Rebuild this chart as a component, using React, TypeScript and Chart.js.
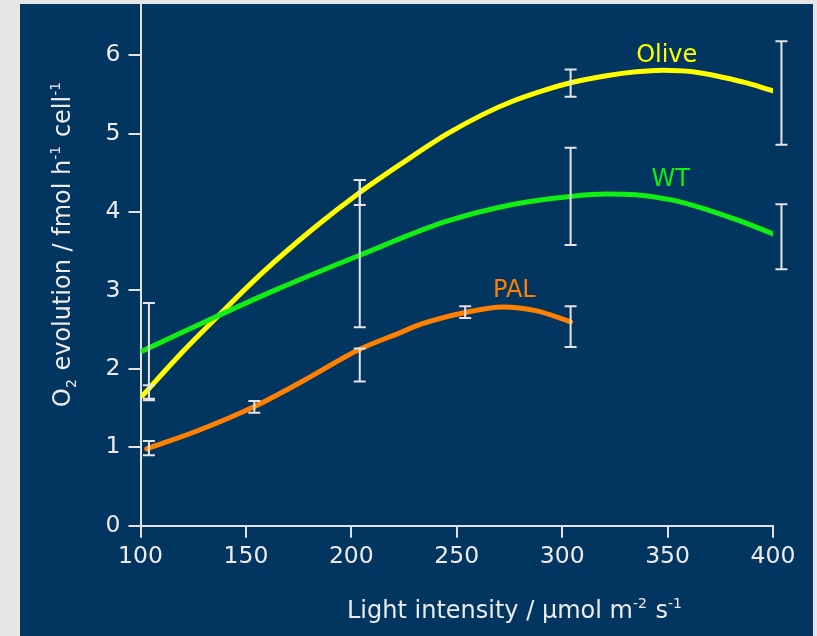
import React, { useEffect, useRef } from "react";
import { Chart, registerables } from "chart.js";

Chart.register(...registerables);

// Fitted curves
const oliveX = [101, 119, 137, 158, 182, 204, 225, 245, 262, 277, 291, 304, 321, 335, 348, 362, 376, 390, 404];
const oliveY = [1.66, 2.19, 2.68, 3.23, 3.79, 4.25, 4.64, 4.99, 5.24, 5.42, 5.55, 5.65, 5.74, 5.79, 5.81, 5.79, 5.72, 5.63, 5.51];
const wtX = [101, 137, 166, 204, 245, 277, 304, 321, 335, 353, 370, 384, 404];
const wtY = [2.23, 2.68, 3.03, 3.45, 3.88, 4.1, 4.2, 4.23, 4.22, 4.15, 4.02, 3.89, 3.68];
const palX = [103, 128, 154, 176, 204, 223, 233, 254, 272, 288, 304];
const palY = [0.98, 1.22, 1.52, 1.83, 2.25, 2.46, 2.57, 2.72, 2.79, 2.74, 2.6];

// Error bars
const oliveErrX = [104, 204, 304, 404];
const oliveErrLow = [1.6, 4.09, 5.47, 4.86];
const oliveErrHigh = [1.79, 4.41, 5.82, 6.18];
const wtErrX = [104, 204, 304, 404];
const wtErrLow = [1.62, 2.53, 3.58, 3.27];
const wtErrHigh = [2.84, 4.41, 4.82, 4.1];
const palErrX = [104, 154, 204, 254, 304];
const palErrLow = [0.9, 1.44, 1.84, 2.65, 2.28];
const palErrHigh = [1.08, 1.59, 2.26, 2.8, 2.8];

// Series labels
const seriesNames = ["Olive", "WT", "PAL"];
const seriesColors = ["#ffff00", "#11ee11", "#ff8000"];
const labelX = [349.6, 351.5, 277.3];
const labelY = [6.03, 4.44, 3.03];

// Axes
const xMin = 100;
const xMax = 400;
const xStep = 50;
const yMin = 0;
const yMax = 6.64;
const yStep = 1;

const FONT = '"DejaVu Sans", sans-serif';
const TEXT = "#ececec";
const AXIS = "#e2e2e2";

type Seg = { t: string; sup?: boolean; sub?: boolean };
const xTitle: Seg[] = [
  { t: "Light intensity / \u00b5mol m" },
  { t: "-2", sup: true },
  { t: " s" },
  { t: "-1", sup: true },
];
const yTitle: Seg[] = [
  { t: "O" },
  { t: "2", sub: true },
  { t: " evolution / fmol h" },
  { t: "-1", sup: true },
  { t: " cell" },
  { t: "-1", sup: true },
];

function drawRich(ctx: CanvasRenderingContext2D, segs: Seg[], x: number, y: number) {
  let cx = x;
  ctx.textAlign = "left";
  ctx.textBaseline = "alphabetic";
  for (const s of segs) {
    const small = s.sup || s.sub;
    ctx.font = `${small ? 14 : 24}px ${FONT}`;
    const dy = s.sup ? -10 : s.sub ? 6 : 0;
    ctx.fillText(s.t, cx, y + dy);
    cx += ctx.measureText(s.t).width + (small ? 1 : 0);
  }
}

const errorBarPlugin = {
  id: "errorBars",
  afterDatasetsDraw(chart: any) {
    const { ctx, scales } = chart;
    const xs = scales.x;
    const ys = scales.y;
    const groups = [
      [oliveErrX, oliveErrLow, oliveErrHigh],
      [wtErrX, wtErrLow, wtErrHigh],
      [palErrX, palErrLow, palErrHigh],
    ];
    ctx.save();
    ctx.strokeStyle = "#e4e4e4";
    ctx.lineWidth = 2;
    const half = 6;
    for (const [gx, lo, hi] of groups) {
      for (let i = 0; i < gx.length; i++) {
        const px = xs.getPixelForValue(gx[i]);
        const p1 = ys.getPixelForValue(lo[i]);
        const p2 = ys.getPixelForValue(hi[i]);
        ctx.beginPath();
        ctx.moveTo(px, p1);
        ctx.lineTo(px, p2);
        ctx.moveTo(px - half, p1);
        ctx.lineTo(px + half, p1);
        ctx.moveTo(px - half, p2);
        ctx.lineTo(px + half, p2);
        ctx.stroke();
      }
    }
    ctx.restore();
  },
};

const textPlugin = {
  id: "texts",
  afterDraw(chart: any) {
    const { ctx, scales, chartArea } = chart;
    ctx.save();
    // series labels
    ctx.font = `24px ${FONT}`;
    ctx.textAlign = "center";
    ctx.textBaseline = "alphabetic";
    for (let i = 0; i < seriesNames.length; i++) {
      ctx.fillStyle = seriesColors[i];
      const px = scales.x.getPixelForValue(labelX[i]);
      const py = scales.y.getPixelForValue(labelY[i]);
      ctx.fillText(seriesNames[i], px, py + 8.7);
    }
    ctx.fillStyle = TEXT;
    // x title
    drawRich(ctx, xTitle, chartArea.left + 206.5, chartArea.bottom + 92.3);
    // y title
    ctx.save();
    ctx.translate(chartArea.left - 71, chartArea.bottom - 118.7);
    ctx.rotate(-Math.PI / 2);
    drawRich(ctx, yTitle, 0, 0);
    ctx.restore();
    ctx.restore();
  },
};

export default function App() {
  const ref = useRef<HTMLCanvasElement | null>(null);

  useEffect(() => {
    if (!ref.current) return;
    const mk = (xs: number[], ys: number[]) => xs.map((x, i) => ({ x, y: ys[i] }));
    const lineDs = (label: string, xs: number[], ys: number[], color: string) => ({
      label,
      data: mk(xs, ys),
      borderColor: color,
      backgroundColor: color,
      borderWidth: 5,
      pointRadius: 0,
      pointHoverRadius: 0,
      cubicInterpolationMode: "monotone" as const,
      borderCapStyle: "round" as const,
      borderJoinStyle: "round" as const,
      fill: false,
    });
    const chart = new Chart(ref.current, {
      type: "line",
      data: {
        datasets: [
          lineDs(seriesNames[1], wtX, wtY, seriesColors[1]),
          lineDs(seriesNames[2], palX, palY, seriesColors[2]),
          lineDs(seriesNames[0], oliveX, oliveY, seriesColors[0]),
        ],
      },
      options: {
        animation: false,
        responsive: true,
        maintainAspectRatio: false,
        events: [],
        layout: { autoPadding: false, padding: { top: 0, right: 40, left: 0, bottom: 0 } },
        plugins: {
          legend: { display: false },
          tooltip: { enabled: false },
          title: { display: false },
        },
        scales: {
          x: {
            type: "linear",
            min: xMin,
            max: xMax,
            ticks: {
              stepSize: xStep,
              includeBounds: false,
              color: TEXT,
              font: { family: FONT, size: 23.5 },
              padding: 5,
              maxRotation: 0,
            },
            grid: { drawOnChartArea: false, drawTicks: true, tickLength: 12, color: AXIS, lineWidth: 2 },
            border: { display: true, color: AXIS, width: 2 },
            afterFit: (s: any) => {
              s.height = 110.3;
            },
          },
          y: {
            type: "linear",
            min: yMin,
            max: yMax,
            ticks: {
              stepSize: yStep,
              includeBounds: false,
              color: TEXT,
              font: { family: FONT, size: 23.5 },
              padding: 8,
            },
            grid: { drawOnChartArea: false, drawTicks: true, tickLength: 12, color: AXIS, lineWidth: 2 },
            border: { display: true, color: AXIS, width: 2 },
            afterFit: (s: any) => {
              s.width = 120.5;
            },
          },
        },
      },
      plugins: [errorBarPlugin, textPlugin],
    });
    return () => chart.destroy();
  }, []);

  return (
    <div
      style={{
        position: "fixed",
        left: 0,
        top: 0,
        width: 817,
        height: 636,
        background: "#e6e6e6",
        overflow: "hidden",
      }}
    >
      <div
        style={{
          position: "absolute",
          left: 20,
          top: 4,
          width: 793,
          height: 632,
          background: "#02355f",
        }}
      />
      <div
        style={{
          position: "absolute",
          left: 20,
          top: -17,
          width: 793,
          height: 653,
        }}
      >
        <canvas ref={ref} />
      </div>
    </div>
  );
}
